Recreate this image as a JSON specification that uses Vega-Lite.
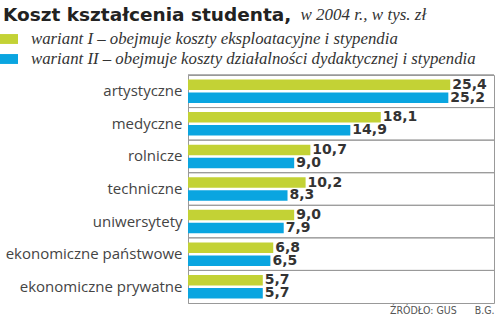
{
  "$schema": "https://vega.github.io/schema/vega-lite/v6.json",
  "width": 306,
  "height": 228,
  "autosize": {"type": "none"},
  "padding": {"left": 188, "top": 75, "right": 6, "bottom": 18},
  "background": "white",
  "title": {
    "text": "Koszt kształcenia studenta,",
    "subtitle": "\u200b\u00a0\u00a0\u00a0\u00a0\u00a0\u00a0\u00a0\u00a0\u00a0\u00a0\u00a0\u00a0\u00a0\u00a0\u00a0\u00a0\u00a0\u00a0\u00a0\u00a0\u00a0\u00a0\u00a0\u00a0\u00a0\u00a0\u00a0\u00a0\u00a0\u00a0\u00a0\u00a0\u00a0\u00a0\u00a0\u00a0\u00a0\u00a0\u00a0\u00a0\u00a0\u00a0\u00a0\u00a0\u00a0\u00a0\u00a0\u00a0\u00a0\u00a0\u00a0\u00a0\u00a0\u00a0\u00a0\u00a0\u00a0\u00a0\u00a0\u00a0\u00a0\u00a0\u00a0\u00a0\u00a0\u00a0\u00a0\u00a0\u00a0\u00a0w 2004 r., w tys. zł",
    "anchor": "start",
    "frame": "group",
    "dx": -185,
    "offset": 6,
    "font": "DejaVu Sans",
    "fontSize": 18.5,
    "fontWeight": "bold",
    "color": "#222222",
    "subtitleFont": "Liberation Serif",
    "subtitleFontStyle": "italic",
    "subtitleFontSize": 17,
    "subtitleColor": "#333333",
    "subtitlePadding": -17
  },
  "data": {
    "values": [
      {"kategoria": "artystyczne", "wariant": "wariant I – obejmuje koszty eksploatacyjne i stypendia", "wartosc": 25.4},
      {"kategoria": "artystyczne", "wariant": "wariant II – obejmuje koszty działalności dydaktycznej i stypendia", "wartosc": 25.2},
      {"kategoria": "medyczne", "wariant": "wariant I – obejmuje koszty eksploatacyjne i stypendia", "wartosc": 18.1},
      {"kategoria": "medyczne", "wariant": "wariant II – obejmuje koszty działalności dydaktycznej i stypendia", "wartosc": 14.9},
      {"kategoria": "rolnicze", "wariant": "wariant I – obejmuje koszty eksploatacyjne i stypendia", "wartosc": 10.7},
      {"kategoria": "rolnicze", "wariant": "wariant II – obejmuje koszty działalności dydaktycznej i stypendia", "wartosc": 9.0},
      {"kategoria": "techniczne", "wariant": "wariant I – obejmuje koszty eksploatacyjne i stypendia", "wartosc": 10.2},
      {"kategoria": "techniczne", "wariant": "wariant II – obejmuje koszty działalności dydaktycznej i stypendia", "wartosc": 8.3},
      {"kategoria": "uniwersytety", "wariant": "wariant I – obejmuje koszty eksploatacyjne i stypendia", "wartosc": 9.0},
      {"kategoria": "uniwersytety", "wariant": "wariant II – obejmuje koszty działalności dydaktycznej i stypendia", "wartosc": 7.9},
      {"kategoria": "ekonomiczne państwowe", "wariant": "wariant I – obejmuje koszty eksploatacyjne i stypendia", "wartosc": 6.8},
      {"kategoria": "ekonomiczne państwowe", "wariant": "wariant II – obejmuje koszty działalności dydaktycznej i stypendia", "wartosc": 6.5},
      {"kategoria": "ekonomiczne prywatne", "wariant": "wariant I – obejmuje koszty eksploatacyjne i stypendia", "wartosc": 5.7},
      {"kategoria": "ekonomiczne prywatne", "wariant": "wariant II – obejmuje koszty działalności dydaktycznej i stypendia", "wartosc": 5.7}
    ]
  },
  "encoding": {
    "y": {
      "field": "kategoria",
      "type": "nominal",
      "sort": null,
      "scale": {"paddingInner": 0, "paddingOuter": 0},
      "axis": {
        "title": null,
        "ticks": false,
        "grid": false,
        "domain": true,
        "domainColor": "#999999",
        "labelFont": "Open Sans",
        "labelFontWeight": 400,
        "labelFontSize": 15,
        "labelColor": "#444444",
        "labelPadding": 6,
        "labelLimit": 220
      }
    }
  },
  "layer": [
    {
      "mark": {"type": "rule", "color": "#999999", "strokeWidth": 1},
      "encoding": {
        "y": {"field": "kategoria", "type": "nominal", "sort": null, "bandPosition": 0}
      }
    },
    {
      "mark": {"type": "bar"},
      "encoding": {
        "yOffset": {
          "field": "wariant",
          "type": "nominal",
          "scale": {"paddingInner": 0.19, "paddingOuter": 0.35}
        },
        "x": {
          "field": "wartosc",
          "type": "quantitative",
          "scale": {"domain": [-2.16, 30], "nice": false, "zero": false},
          "axis": {
            "title": "ŹRÓDŁO: GUS\u00a0\u00a0\u00a0\u00a0\u00a0\u00a0B.G.",
            "titleAnchor": "end",
            "titleFont": "DejaVu Sans Condensed",
            "titleFontWeight": "normal",
            "titleFontSize": 10.5,
            "titleColor": "#555555",
            "titlePadding": 2,
            "labels": false,
            "ticks": false,
            "domain": false,
            "grid": false
          }
        },
        "x2": {"datum": -2.16},
        "color": {
          "field": "wariant",
          "type": "nominal",
          "scale": {"range": ["#c3d235", "#0aa5e0"]},
          "legend": {
            "orient": "none",
            "legendX": -188,
            "legendY": -45,
            "title": null,
            "padding": 0,
            "symbolType": "M-1,-0.55H1V0.55H-1Z",
            "symbolSize": 324,
            "symbolStrokeWidth": 0,
            "labelFont": "Liberation Serif",
            "labelFontStyle": "italic",
            "labelFontSize": 16.8,
            "labelColor": "#333333",
            "labelOffset": 13,
            "labelLimit": 500,
            "rowPadding": 2
          }
        }
      }
    },
    {
      "mark": {"type": "text", "align": "left", "baseline": "middle", "dx": 2, "font": "DejaVu Sans", "fontWeight": "bold", "fontSize": 14, "color": "#333333"},
      "encoding": {
        "yOffset": {
          "field": "wariant",
          "type": "nominal",
          "scale": {"paddingInner": 0.19, "paddingOuter": 0.35}
        },
        "x": {"field": "wartosc", "type": "quantitative"},
        "text": {"field": "wartosc", "type": "quantitative", "format": ".1f"}
      }
    }
  ],
  "config": {
    "view": {"stroke": "#999999", "strokeWidth": 1},
    "locale": {"number": {"decimal": ",", "thousands": " ", "grouping": [3], "currency": ["", " zł"]}}
  }
}
